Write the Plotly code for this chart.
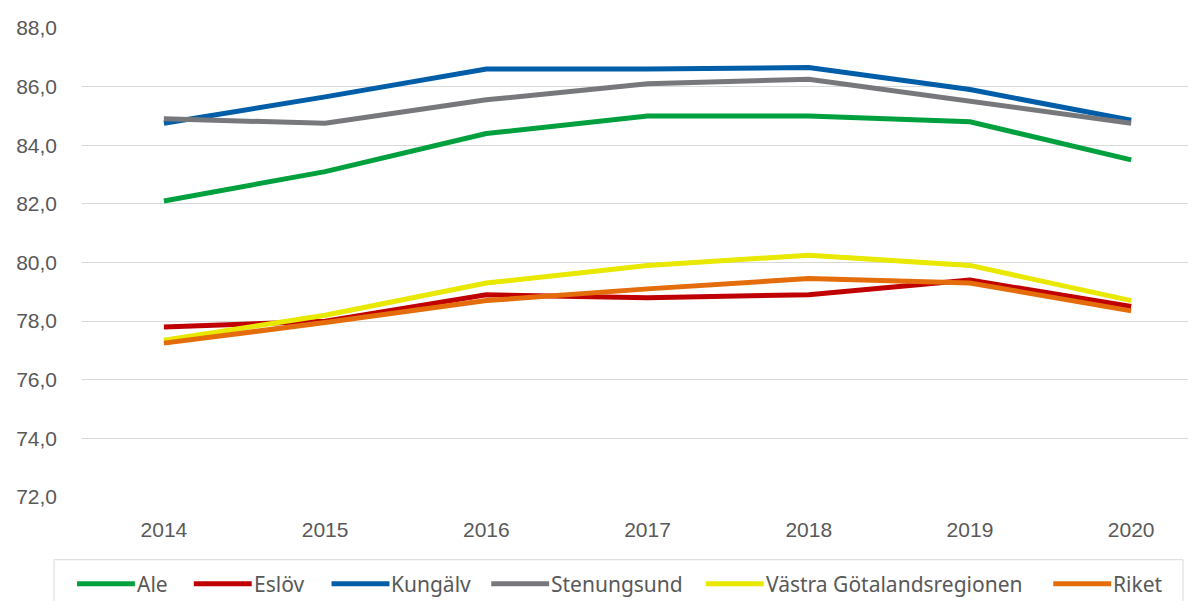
import plotly.graph_objects as go

years = [2014, 2015, 2016, 2017, 2018, 2019, 2020]
year_labels = ["2014", "2015", "2016", "2017", "2018", "2019", "2020"]

ale = [82.1, 83.1, 84.4, 85.0, 85.0, 84.8, 83.5]
eslov = [77.8, 78.0, 78.9, 78.8, 78.9, 79.4, 78.5]
kungalv = [84.75, 85.65, 86.6, 86.6, 86.65, 85.9, 84.85]
stenungsund = [84.9, 84.75, 85.55, 86.1, 86.25, 85.5, 84.75]
vastra = [77.35, 78.2, 79.3, 79.9, 80.25, 79.9, 78.7]
riket = [77.25, 77.95, 78.7, 79.1, 79.45, 79.3, 78.35]

series_names = ["Ale", "Eslöv", "Kungälv", "Stenungsund", "Västra Götalandsregionen", "Riket"]
series_values = [ale, eslov, kungalv, stenungsund, vastra, riket]
series_colors = ["#00A03E", "#C00000", "#005DA8", "#76787C", "#E8E800", "#E46C0A"]

# ---- layout geometry (pixels in the figure) ----
W, H = 1196, 601
ML, MR, MT, MB = 72, 8, 18, 112
PW = W - ML - MR
PH = H - MT - MB


def px(x):
    return (x - ML) / PW


def py(y):
    return (H - MB - y) / PH


fig = go.Figure()
for name, vals, col in zip(series_names, series_values, series_colors):
    fig.add_trace(go.Scatter(
        x=years, y=vals, name=name, mode="lines",
        line=dict(color=col, width=5),
        showlegend=False,
    ))

# ---- custom legend (decoration) ----
legend_box = dict(x0=44, x1=1175, y0=552, y1=H + 5)
legend_symbol_starts = [67, 184, 322, 482, 697, 1045]
symbol_len = 58
legend_y = 576

shapes = [dict(
    type="rect", xref="paper", yref="paper",
    x0=px(legend_box["x0"]), x1=px(legend_box["x1"]),
    y0=py(legend_box["y0"]), y1=py(legend_box["y1"]),
    line=dict(color="#D9D9D9", width=1), fillcolor="rgba(0,0,0,0)",
    layer="above",
)]
annotations = []
for name, col, sx in zip(series_names, series_colors, legend_symbol_starts):
    shapes.append(dict(
        type="line", xref="paper", yref="paper",
        x0=px(sx), x1=px(sx + symbol_len), y0=py(legend_y), y1=py(legend_y),
        line=dict(color=col, width=5),
    ))
    annotations.append(dict(
        xref="paper", yref="paper", x=px(sx + symbol_len + 1), y=py(legend_y),
        text=name, showarrow=False, xanchor="left", yanchor="middle",
        font=dict(family="Noto Sans, sans-serif", size=21, color="#595959"),
        borderpad=0,
    ))

fig.update_layout(
    width=W, height=H,
    margin=dict(l=ML, r=MR, t=MT, b=MB),
    paper_bgcolor="white", plot_bgcolor="white",
    separators=", ",
    font=dict(family="Liberation Sans, Arial, sans-serif", color="#595959", size=20),
    showlegend=False,
    shapes=shapes,
    annotations=annotations,
)

fig.update_xaxes(
    range=[2013.492, 2020.402],
    tickvals=years, ticktext=year_labels,
    showgrid=False, zeroline=False, showline=False,
    ticks="", ticklabelstandoff=18,
    tickfont=dict(size=21, color="#595959"),
)
fig.update_yaxes(
    range=[72, 88],
    tickvals=[72, 74, 76, 78, 80, 82, 84, 86, 88],
    tickformat=".1f",
    showgrid=True, gridcolor="#D9D9D9", gridwidth=1,
    zeroline=False, showline=False,
    ticks="", ticklabelstandoff=24,
    tickfont=dict(size=21, color="#595959"),
)

fig.write_html("out.html")
